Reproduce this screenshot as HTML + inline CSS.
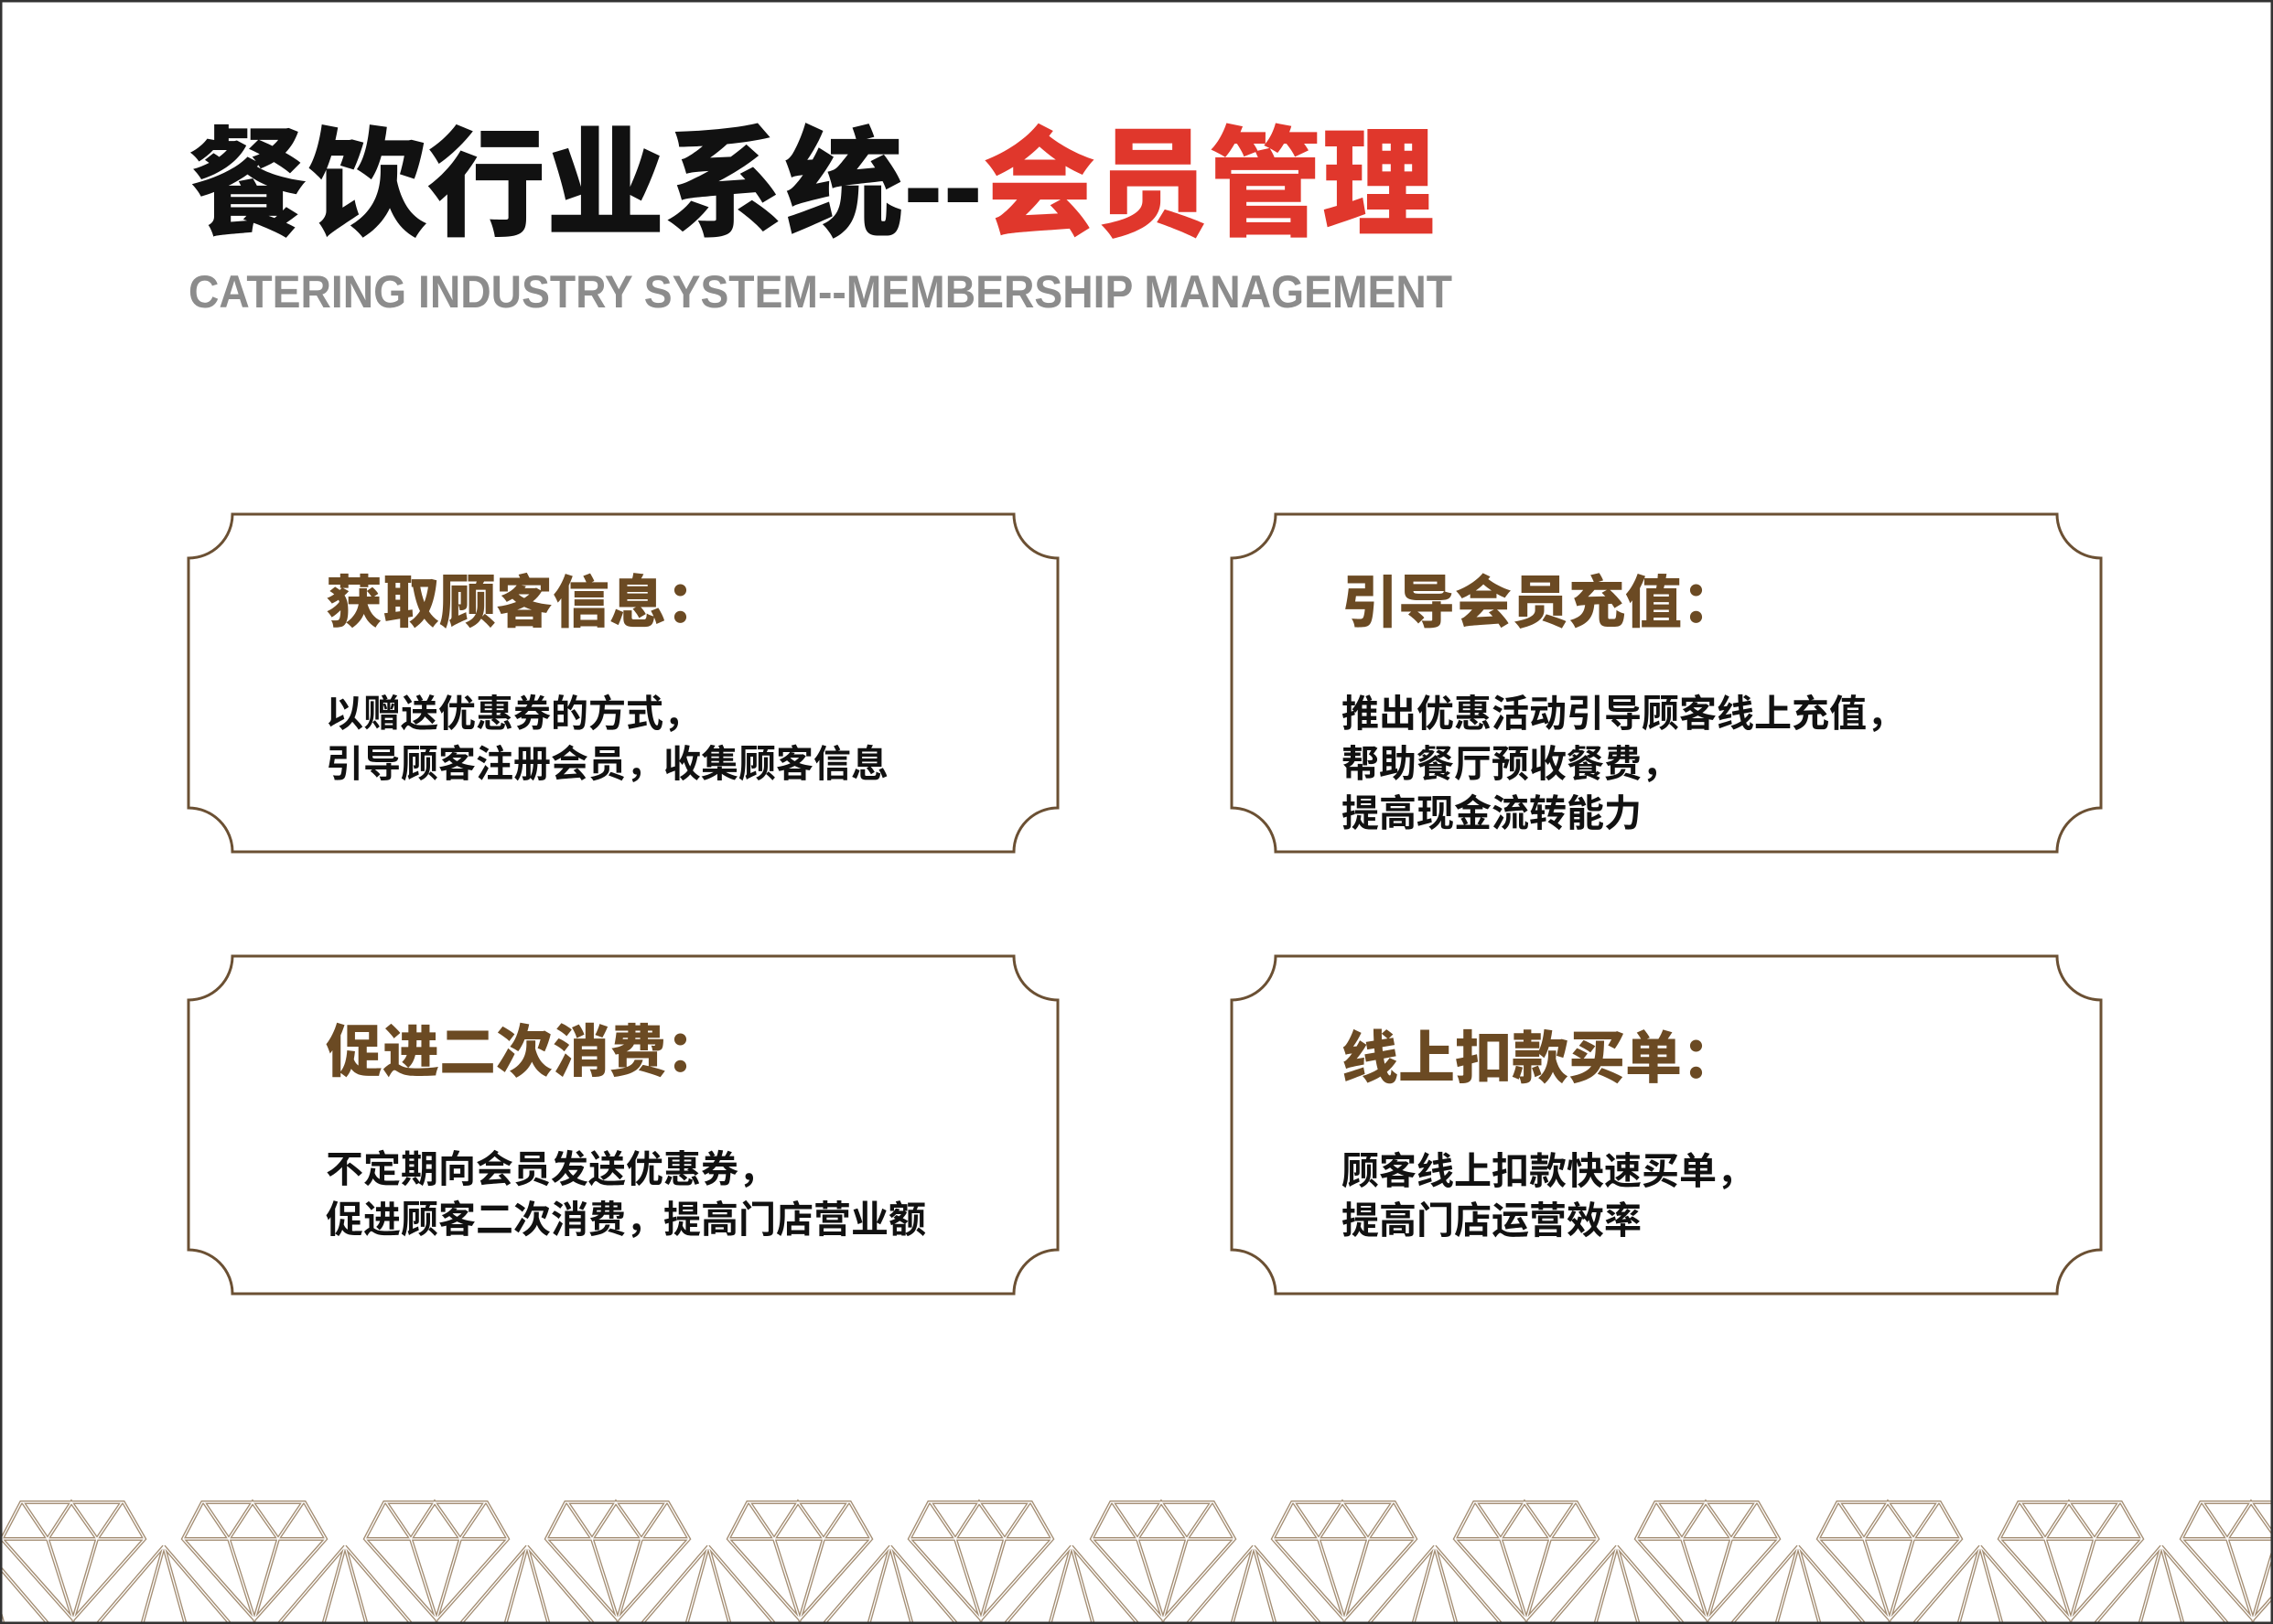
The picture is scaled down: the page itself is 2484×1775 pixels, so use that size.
<!DOCTYPE html>
<html><head><meta charset="utf-8"><style>
html,body{margin:0;padding:0;background:#fff;}
svg{display:block;}
</style></head><body>
<svg width="2484" height="1775" viewBox="0 0 2484 1775" xmlns="http://www.w3.org/2000/svg">
<rect x="1" y="1" width="2482" height="1773" fill="#fff" stroke="#333" stroke-width="2"/>
<defs>
<g id="dia">
<path d="M-57,1642 L55,1642 L78,1682 L0,1770 L-78,1682 Z M-78,1682 H78 M-55,1642 L-28,1682 L-2,1642 L26,1682 L53,1642 M-28,1682 L0,1770 L26,1682 M99,1690 L22,1780 M99,1690 L176,1780 M99,1690 L74,1780 M99,1690 L124,1780" fill="none" stroke-linejoin="miter"/>
</g>
<path id="box" d="M48,0 H902 A48,48 0 0 0 950,48 V321 A48,48 0 0 0 902,369 H48 A48,48 0 0 0 0,321 V48 A48,48 0 0 0 48,0 Z" fill="none" stroke="#6b5033" stroke-width="3"/>
</defs>
<g stroke="#a48e74" stroke-width="4">
<use href="#dia" x="-119"/><use href="#dia" x="80"/><use href="#dia" x="278"/><use href="#dia" x="477"/><use href="#dia" x="675"/><use href="#dia" x="874"/><use href="#dia" x="1072"/><use href="#dia" x="1271"/><use href="#dia" x="1469"/><use href="#dia" x="1668"/><use href="#dia" x="1866"/><use href="#dia" x="2065"/><use href="#dia" x="2263"/><use href="#dia" x="2462"/>
</g>
<g stroke="#fff" stroke-width="1.3">
<use href="#dia" x="-119"/><use href="#dia" x="80"/><use href="#dia" x="278"/><use href="#dia" x="477"/><use href="#dia" x="675"/><use href="#dia" x="874"/><use href="#dia" x="1072"/><use href="#dia" x="1271"/><use href="#dia" x="1469"/><use href="#dia" x="1668"/><use href="#dia" x="1866"/><use href="#dia" x="2065"/><use href="#dia" x="2263"/><use href="#dia" x="2462"/>
</g>
<rect x="1" y="1" width="2482" height="1773" fill="none" stroke="#333" stroke-width="3"/>

<g font-family="'Liberation Sans','Noto Sans CJK SC',sans-serif" font-weight="900">
<text x="206" y="247" font-size="130" fill="#111" textLength="868" lengthAdjust="spacingAndGlyphs">餐饮行业系统--</text>
<text x="1074" y="247" font-size="130" fill="#e0372c" textLength="494" lengthAdjust="spacingAndGlyphs">会员管理</text>
</g>
<text x="206" y="336" font-family="'Liberation Sans',sans-serif" font-weight="bold" font-size="50" fill="#8c8c8c" textLength="1381" lengthAdjust="spacingAndGlyphs">CATERING INDUSTRY SYSTEM--MEMBERSHIP MANAGEMENT</text>

<use href="#box" x="206" y="562"/>
<use href="#box" x="1346" y="562"/>
<use href="#box" x="206" y="1045"/>
<use href="#box" x="1346" y="1045"/>

<g font-family="'Liberation Sans','Noto Sans CJK SC',sans-serif" font-weight="900" font-size="62" fill="#6b4a23">
<text x="356" y="680">获取顾客信息：</text>
<text x="1466" y="680">引导会员充值：</text>
<text x="356" y="1171">促进二次消费：</text>
<text x="1466" y="1178">线上扣款买单：</text>
</g>
<g font-family="'Liberation Sans','Noto Sans CJK SC',sans-serif" font-weight="700" font-size="41" fill="#111">
<text x="356" y="794">以赠送优惠券的方式，</text>
<text x="356" y="849">引导顾客注册会员，收集顾客信息</text>
<text x="1466" y="794">推出优惠活动引导顾客线上充值，</text>
<text x="1466" y="849">帮助餐厅预收餐费，</text>
<text x="1466" y="903">提高现金流转能力</text>
<text x="356" y="1292">不定期向会员发送优惠券，</text>
<text x="356" y="1347">促进顾客二次消费，提高门店营业额</text>
<text x="1466" y="1294">顾客线上扣款快速买单，</text>
<text x="1466" y="1348">提高门店运营效率</text>
</g>
</svg>
</body></html>
